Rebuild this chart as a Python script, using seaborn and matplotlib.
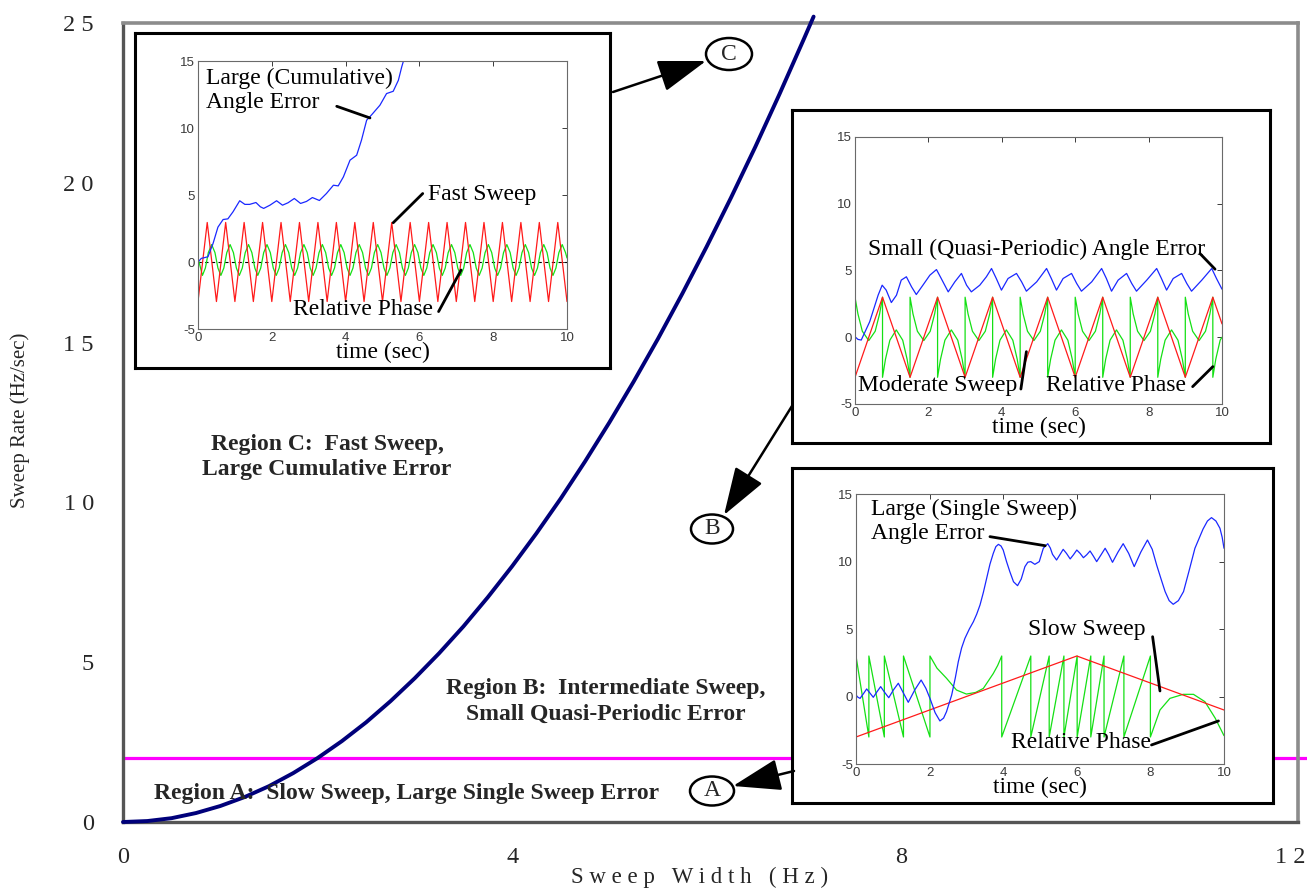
import matplotlib
matplotlib.use("Agg")
import matplotlib.pyplot as plt
import seaborn as sns
from matplotlib.patches import Ellipse, FancyArrowPatch

W, H = 1307, 888

# ---------------- main chart data ----------------
sweep_width = [0.0, 0.25, 0.5, 0.75, 1.0, 1.25, 1.5, 1.75, 2.0, 2.25, 2.5, 2.75, 3.0, 3.25, 3.5,
               3.75, 4.0, 4.25, 4.5, 4.75, 5.0, 5.25, 5.5, 5.75, 6.0, 6.25, 6.5, 6.75, 7.0, 7.1]
sweep_rate = [0.0, 0.03, 0.12, 0.28, 0.5, 0.78, 1.12, 1.53, 2.0, 2.53, 3.12, 3.78, 4.5, 5.28, 6.12,
              7.03, 8.0, 9.03, 10.12, 11.28, 12.5, 13.78, 15.12, 16.53, 18.0, 19.53, 21.12, 22.78,
              24.5, 25.2]
boundary_width = [0.0, 12.2]
boundary_rate = [2.0, 2.0]

x_ticks = [0, 4, 8, 12]
x_tick_labels = ["0", "4", "8", "1 2"]
y_ticks = [0, 5, 10, 15, 20, 25]
y_tick_labels = ["0", "5", "1 0", "1 5", "2 0", "2 5"]

# ---------------- fast sweep (region C) ----------------
fast_err_t = [0.0, 0.09, 0.27, 0.41, 0.54, 0.68, 0.81, 0.95, 1.13, 1.27, 1.40, 1.57, 1.69, 1.78,
              1.95, 2.13, 2.29, 2.44, 2.61, 2.78, 2.94, 3.10, 3.29, 3.48, 3.67, 3.80, 3.94, 4.12,
              4.30, 4.43, 4.57, 4.71, 4.93, 5.11, 5.29, 5.43, 5.52, 5.60]
fast_err = [0.0, 0.27, 0.39, 1.4, 2.6, 3.17, 3.22, 3.75, 4.57, 4.3, 4.3, 4.44, 4.12, 4.0,
            4.24, 4.57, 4.24, 4.42, 4.74, 4.37, 4.52, 4.81, 4.59, 5.11, 5.73, 5.68, 6.35, 7.6,
            7.97, 9.09, 10.58, 11.0, 11.7, 12.57, 12.74, 13.56, 14.55, 15.3]

fast_sweep_t = [0.0, 0.0, 0.25, 0.5, 0.75, 1.0, 1.25, 1.5, 1.75, 2.0, 2.25, 2.5, 2.75, 3.0, 3.25,
                3.5, 3.75, 4.0, 4.25, 4.5, 4.75, 5.0, 5.25, 5.5, 5.75, 6.0, 6.25, 6.5, 6.75, 7.0,
                7.25, 7.5, 7.75, 8.0, 8.25, 8.5, 8.75, 9.0, 9.25, 9.5, 9.75, 10.0]
fast_sweep = [-5.0, -2.95, 2.95, -2.95, 2.95, -2.95, 2.95, -2.95, 2.95, -2.95, 2.95, -2.95, 2.95,
              -2.95, 2.95, -2.95, 2.95, -2.95, 2.95, -2.95, 2.95, -2.95, 2.95, -2.95, 2.95, -2.95,
              2.95, -2.95, 2.95, -2.95, 2.95, -2.95, 2.95, -2.95, 2.95, -2.95, 2.95, -2.95, 2.95,
              -2.95, 2.95, -2.95]

fast_phase_t = [0.0,
                0.12, 0.20, 0.28, 0.37, 0.46, 0.54,
                0.62, 0.70, 0.78, 0.87, 0.96, 1.04,
                1.12, 1.20, 1.28, 1.37, 1.46, 1.54,
                1.62, 1.70, 1.78, 1.87, 1.96, 2.04,
                2.12, 2.20, 2.28, 2.37, 2.46, 2.54,
                2.62, 2.70, 2.78, 2.87, 2.96, 3.04,
                3.12, 3.20, 3.28, 3.37, 3.46, 3.54,
                3.62, 3.70, 3.78, 3.87, 3.96, 4.04,
                4.12, 4.20, 4.28, 4.37, 4.46, 4.54,
                4.62, 4.70, 4.78, 4.87, 4.96, 5.04,
                5.12, 5.20, 5.28, 5.37, 5.46, 5.54,
                5.62, 5.70, 5.78, 5.87, 5.96, 6.04,
                6.12, 6.20, 6.28, 6.37, 6.46, 6.54,
                6.62, 6.70, 6.78, 6.87, 6.96, 7.04,
                7.12, 7.20, 7.28, 7.37, 7.46, 7.54,
                7.62, 7.70, 7.78, 7.87, 7.96, 8.04,
                8.12, 8.20, 8.28, 8.37, 8.46, 8.54,
                8.62, 8.70, 8.78, 8.87, 8.96, 9.04,
                9.12, 9.20, 9.28, 9.37, 9.46, 9.54,
                9.62, 9.70, 9.78, 9.87, 9.96,
                10.0]
fast_phase = [0.3,
              -1.0, -0.45, 0.7, 1.3, 0.7, -0.45,
              -1.0, -0.45, 0.7, 1.3, 0.7, -0.45,
              -1.0, -0.45, 0.7, 1.3, 0.7, -0.45,
              -1.0, -0.45, 0.7, 1.3, 0.7, -0.45,
              -1.0, -0.45, 0.7, 1.3, 0.7, -0.45,
              -1.0, -0.45, 0.7, 1.3, 0.7, -0.45,
              -1.0, -0.45, 0.7, 1.3, 0.7, -0.45,
              -1.0, -0.45, 0.7, 1.3, 0.7, -0.45,
              -1.0, -0.45, 0.7, 1.3, 0.7, -0.45,
              -1.0, -0.45, 0.7, 1.3, 0.7, -0.45,
              -1.0, -0.45, 0.7, 1.3, 0.7, -0.45,
              -1.0, -0.45, 0.7, 1.3, 0.7, -0.45,
              -1.0, -0.45, 0.7, 1.3, 0.7, -0.45,
              -1.0, -0.45, 0.7, 1.3, 0.7, -0.45,
              -1.0, -0.45, 0.7, 1.3, 0.7, -0.45,
              -1.0, -0.45, 0.7, 1.3, 0.7, -0.45,
              -1.0, -0.45, 0.7, 1.3, 0.7, -0.45,
              -1.0, -0.45, 0.7, 1.3, 0.7, -0.45,
              -1.0, -0.45, 0.7, 1.3, 0.7, -0.45,
              -1.0, -0.45, 0.7, 1.3, 0.7,
              0.3]

# ---------------- moderate sweep (region B) ----------------
mod_err_t = [0.0, 0.08, 0.17, 0.4, 0.63, 0.74, 0.85, 0.99, 1.13, 1.26, 1.40, 1.54, 1.67, 1.85,
             2.04, 2.22, 2.35, 2.54, 2.72, 2.9, 3.04, 3.17, 3.4, 3.58, 3.72, 3.85, 3.99, 4.17,
             4.4, 4.54, 4.67, 4.95, 5.22, 5.35, 5.49, 5.67, 5.9, 6.04, 6.17, 6.45, 6.72, 6.85,
             6.99, 7.17, 7.4, 7.54, 7.67, 7.95, 8.22, 8.35, 8.49, 8.67, 8.9, 9.04, 9.17, 9.45,
             9.72, 9.85, 10.0]
mod_err = [0.04, -0.16, -0.21, 1.16, 3.15, 3.9, 3.53, 2.6, 3.15, 4.28, 4.53, 3.78, 3.2, 3.9,
           4.65, 5.07, 4.4, 3.4, 4.15, 4.78, 3.9, 3.4, 3.9, 4.53, 5.15, 4.4, 3.53, 4.4,
           4.78, 4.15, 3.45, 4.15, 5.15, 4.4, 3.53, 4.4, 4.78, 4.03, 3.45, 4.15, 5.15, 4.4,
           3.45, 4.28, 4.78, 4.03, 3.45, 4.28, 5.15, 4.4, 3.53, 4.4, 4.78, 4.03, 3.45, 4.28,
           5.15, 4.4, 3.6]

mod_sweep_t = [0.0, 0.0, 0.75, 1.5, 2.25, 3.0, 3.75, 4.5, 5.25, 6.0, 6.75, 7.5, 8.25, 9.0, 9.75, 10.0]
mod_sweep = [-5.0, -3.0, 3.0, -3.0, 3.0, -3.0, 3.0, -3.0, 3.0, -3.0, 3.0, -3.0, 3.0, -3.0, 3.0, 1.0]

mod_phase_t = [0.0,
               0.0, 0.08, 0.2, 0.375, 0.55, 0.67, 0.75, 0.75, 0.83, 0.95, 1.125, 1.3, 1.42, 1.5,
               1.5, 1.58, 1.7, 1.875, 2.05, 2.17, 2.25, 2.25, 2.33, 2.45, 2.625, 2.8, 2.92, 3.0,
               3.0, 3.08, 3.2, 3.375, 3.55, 3.67, 3.75, 3.75, 3.83, 3.95, 4.125, 4.3, 4.42, 4.5,
               4.5, 4.58, 4.7, 4.875, 5.05, 5.17, 5.25, 5.25, 5.33, 5.45, 5.625, 5.8, 5.92, 6.0,
               6.0, 6.08, 6.2, 6.375, 6.55, 6.67, 6.75, 6.75, 6.83, 6.95, 7.125, 7.3, 7.42, 7.5,
               7.5, 7.58, 7.7, 7.875, 8.05, 8.17, 8.25, 8.25, 8.33, 8.45, 8.625, 8.8, 8.92, 9.0,
               9.0, 9.08, 9.2, 9.375, 9.55, 9.67, 9.75, 9.75, 9.83, 9.95, 10.0]
mod_phase = [-3.0,
             3.0, 1.75, 0.45, -0.25, 0.45, 1.75, 3.0, -3.0, -1.65, -0.22, 0.55, -0.22, -1.65, -3.0,
             3.0, 1.75, 0.45, -0.25, 0.45, 1.75, 3.0, -3.0, -1.65, -0.22, 0.55, -0.22, -1.65, -3.0,
             3.0, 1.75, 0.45, -0.25, 0.45, 1.75, 3.0, -3.0, -1.65, -0.22, 0.55, -0.22, -1.65, -3.0,
             3.0, 1.75, 0.45, -0.25, 0.45, 1.75, 3.0, -3.0, -1.65, -0.22, 0.55, -0.22, -1.65, -3.0,
             3.0, 1.75, 0.45, -0.25, 0.45, 1.75, 3.0, -3.0, -1.65, -0.22, 0.55, -0.22, -1.65, -3.0,
             3.0, 1.75, 0.45, -0.25, 0.45, 1.75, 3.0, -3.0, -1.65, -0.22, 0.55, -0.22, -1.65, -3.0,
             3.0, 1.75, 0.45, -0.25, 0.45, 1.75, 3.0, -3.0, -1.65, -0.22, 0.0]

# ---------------- slow sweep (region A) ----------------
slow_err_t = [0.0, 0.05, 0.11, 0.2, 0.29, 0.38, 0.47, 0.57, 0.67, 0.78, 0.89, 1.02, 1.15, 1.28,
              1.42, 1.6, 1.77, 1.9, 2.01, 2.15, 2.28, 2.38, 2.46, 2.6, 2.7, 2.78, 2.87, 2.96,
              3.08, 3.19, 3.28, 3.37, 3.46, 3.55, 3.64, 3.73, 3.8, 3.87, 3.94, 4.0, 4.09, 4.18,
              4.28, 4.39, 4.49, 4.59, 4.67, 4.75, 4.86, 4.98, 5.09, 5.21, 5.28, 5.34, 5.45, 5.54,
              5.63, 5.72, 5.82, 5.91, 6.0, 6.09, 6.18, 6.27, 6.36, 6.45, 6.54, 6.66, 6.77, 6.87,
              6.97, 7.12, 7.26, 7.41, 7.56, 7.74, 7.92, 8.05, 8.17, 8.29, 8.4, 8.51, 8.62, 8.76,
              8.9, 9.05, 9.21, 9.43, 9.55, 9.66, 9.78, 9.89, 9.95, 10.0]
slow_err = [0.11, -0.05, -0.14, 0.2, 0.56, 0.25, -0.06, 0.35, 0.73, 0.3, -0.09, 0.5, 0.98, 0.3,
            -0.43, 0.5, 1.22, 0.6, -0.14, -1.2, -1.81, -1.6, -1.12, 0.11, 1.4, 2.58, 3.6, 4.31,
            5.0, 5.54, 6.1, 6.78, 7.7, 8.75, 9.8, 10.6, 11.1, 11.27, 11.15, 10.85, 10.0, 9.25,
            8.5, 8.21, 8.7, 9.62, 9.95, 9.99, 9.79, 9.99, 10.98, 11.32, 11.0, 10.53, 10.11, 10.5,
            10.9, 10.6, 10.19, 10.5, 10.85, 10.6, 10.28, 10.5, 10.78, 10.4, 9.99, 10.5, 10.98, 10.5,
            9.94, 10.7, 11.32, 10.6, 9.62, 10.7, 11.59, 10.9, 9.74, 8.7, 7.77, 7.1, 6.83, 7.1,
            7.77, 9.3, 10.98, 12.4, 13.0, 13.25, 13.0, 12.46, 11.8, 10.98]

slow_sweep_t = [0.0, 0.0, 6.0, 10.0]
slow_sweep = [-5.0, -3.0, 3.0, -1.0]

slow_phase_t = [0.0, 0.35, 0.35, 0.77, 0.77, 1.29, 1.29, 2.01, 2.01,
                2.2, 2.46, 2.73, 3.0, 3.25, 3.46, 3.73, 3.85, 3.96,
                3.96, 4.75, 4.75, 5.25, 5.25, 5.65, 5.65, 6.01, 6.01, 6.38, 6.38, 6.74, 6.74,
                7.28, 7.28, 8.0, 8.0,
                8.26, 8.53, 8.89, 9.17, 9.48, 9.76, 10.0]
slow_phase = [3.0, -3.0, 3.0, -3.0, 3.0, -3.0, 3.0, -3.0, 3.0,
              2.1, 1.35, 0.48, 0.18, 0.3, 0.6, 1.7, 2.3, 3.0,
              -3.0, 3.0, -3.0, 3.0, -3.0, 3.0, -3.0, 3.0, -3.0, 3.0, -3.0, 3.0, -3.0,
              3.0, -3.0, 3.0, -3.0,
              -1.0, -0.14, 0.16, 0.16, -0.38, -1.6, -2.9]

# ---------------- styling ----------------
sns.set_style("white")
plt.rcParams["font.family"] = ["Liberation Serif", "DejaVu Serif"]
plt.rcParams["axes.unicode_minus"] = False

ERR_C, SWEEP_C, PHASE_C = "#1a28ff", "#ff1a1a", "#14e014"
SERIF = "Liberation Serif"
SANS = "Liberation Sans"

fig = plt.figure(figsize=(W / 100, H / 100), dpi=100)
fig.patch.set_facecolor("white")


def fx(px):
    return px / W


def fy(py):
    return 1 - py / H


def rect(x0, y0, x1, y1):
    return [fx(x0), fy(y1), fx(x1) - fx(x0), fy(y0) - fy(y1)]


# ---------------- main axes ----------------
ax = fig.add_axes(rect(123, 23, 1298, 822))
ax.set_facecolor("white")
sns.lineplot(x=boundary_width, y=boundary_rate, ax=ax, color="#ff00ff", lw=2.3,
             estimator=None, sort=False, clip_on=False, zorder=2)
sns.lineplot(x=sweep_width, y=sweep_rate, ax=ax, color="#00007a", lw=2.8,
             estimator=None, sort=False, clip_on=False, zorder=3)
ax.set_xlim(0, 12.08)
ax.set_ylim(0, 25)
ax.set_xticks(x_ticks)
ax.set_xticklabels(x_tick_labels)
ax.set_yticks(y_ticks)
ax.set_yticklabels(y_tick_labels)
ax.tick_params(axis="x", direction="inout", length=14, width=1.0, color="black",
               pad=11, labelsize=17.5)
ax.tick_params(axis="y", direction="out", length=7, width=1.0, color="black",
               pad=14, labelsize=17.5)
ax.set_xlabel("")
ax.set_ylabel("")
for side in ("left", "bottom"):
    ax.spines[side].set_color("#555555")
    ax.spines[side].set_linewidth(2.4)
for side in ("top", "right"):
    ax.spines[side].set_color("#8c8c8c")
    ax.spines[side].set_linewidth(2.6)

fig.text(fx(20), fy(420), "Sweep Rate (Hz/sec)", rotation=90, ha="center", va="center",
         fontsize=15, family=SERIF)
fig.text(fx(700), fy(877), "S w e e p   W i d t h   ( H z )", ha="center", va="center",
         fontsize=16.5, family=SERIF)

# region descriptions
fig.text(fx(327), fy(457), "Region C:  Fast Sweep,\nLarge Cumulative Error", ha="center",
         va="center", fontsize=17, fontweight="bold", family=SERIF, linespacing=1.3)
fig.text(fx(606), fy(701), "Region B:  Intermediate Sweep,\nSmall Quasi-Periodic Error",
         ha="center", va="center", fontsize=17, fontweight="bold", family=SERIF, linespacing=1.3)
fig.text(fx(407), fy(793), "Region A:  Slow Sweep, Large Single Sweep Error", ha="center",
         va="center", fontsize=17, fontweight="bold", family=SERIF)


# ---------------- inset panels ----------------
def frame_box(x0, y0, x1, y1):
    b = fig.add_axes(rect(x0, y0, x1, y1))
    b.set_facecolor("white")
    b.set_xticks([])
    b.set_yticks([])
    for s in b.spines.values():
        s.set_color("black")
        s.set_linewidth(2.2)
    return b


def inner_axes(x0, y0, x1, y1):
    a = fig.add_axes(rect(x0, y0, x1, y1))
    a.set_facecolor("white")
    a.set_xlim(0, 10)
    a.set_ylim(-5, 15)
    a.set_xticks([0, 2, 4, 6, 8, 10])
    a.set_yticks([-5, 0, 5, 10, 15])
    a.tick_params(direction="in", length=3.5, width=0.7, top=True, right=True,
                  labelsize=9.5, colors="#3a3a3a", pad=2)
    for lbl in a.get_xticklabels() + a.get_yticklabels():
        lbl.set_family(SANS)
    for s in a.spines.values():
        s.set_color("#6a6a6a")
        s.set_linewidth(0.8)
    return a


def traces(a, et, e, st, s, pt, p):
    sns.lineplot(x=pt, y=p, ax=a, color=PHASE_C, lw=0.9, estimator=None, sort=False)
    sns.lineplot(x=st, y=s, ax=a, color=SWEEP_C, lw=0.9, estimator=None, sort=False)
    sns.lineplot(x=et, y=e, ax=a, color=ERR_C, lw=0.9, estimator=None, sort=False)
    a.set_xlim(0, 10)
    a.set_ylim(-5, 15)
    a.set_xlabel("time (sec)", fontsize=17, family=SERIF, labelpad=-1.5, color="black")
    a.set_ylabel("")


def leader(a, p0, p1):
    a.annotate("", xy=p1, xytext=p0, xycoords="data", textcoords="data",
               arrowprops=dict(arrowstyle="-", lw=2.0, color="black",
                               shrinkA=0, shrinkB=0), annotation_clip=False)


def label(a, x, y, s):
    a.text(x, y, s, ha="left", va="center", fontsize=17, family=SERIF,
           linespacing=1.2, color="black")


# Region C panel
frame_box(135, 33, 610, 368)
ac = inner_axes(198, 61, 567, 329)
ac.axhline(0, color="black", lw=0.8, ls=(0, (3, 3)), zorder=1)
traces(ac, fast_err_t, fast_err, fast_sweep_t, fast_sweep, fast_phase_t, fast_phase)
label(ac, 0.22, 12.8, "Large (Cumulative)\nAngle Error")
leader(ac, (3.76, 11.62), (4.66, 10.75))
label(ac, 6.23, 5.07, "Fast Sweep")
leader(ac, (6.09, 5.11), (5.29, 2.93))
label(ac, 2.57, -3.58, "Relative Phase")
leader(ac, (6.52, -3.7), (7.13, -0.6))

# Region B panel
frame_box(792, 110, 1270, 443)
ab = inner_axes(855, 137, 1222, 404)
traces(ab, mod_err_t, mod_err, mod_sweep_t, mod_sweep, mod_phase_t, mod_phase)
label(ab, 0.35, 6.6, "Small (Quasi-Periodic) Angle Error")
leader(ab, (9.4, 6.27), (9.81, 5.1))
label(ab, 0.08, -3.58, "Moderate Sweep")
leader(ab, (4.52, -3.88), (4.67, -1.08))
label(ab, 5.2, -3.65, "Relative Phase")
leader(ab, (9.2, -3.7), (9.75, -2.2))

# Region A panel
frame_box(792, 468, 1273, 803)
aa = inner_axes(856, 494, 1224, 764)
traces(aa, slow_err_t, slow_err, slow_sweep_t, slow_sweep, slow_phase_t, slow_phase)
label(aa, 0.41, 12.95, "Large (Single Sweep)\nAngle Error")
leader(aa, (3.64, 11.84), (5.14, 11.17))
label(aa, 4.68, 4.98, "Slow Sweep")
leader(aa, (8.06, 4.43), (8.26, 0.41))
label(aa, 4.2, -3.42, "Relative Phase")
leader(aa, (8.03, -3.59), (9.85, -1.81))

# ---------------- region callouts ----------------
callouts = [
    ("C", (729, 54), 46, 32, (613, 92), (706, 61)),
    ("B", (712, 529), 42, 29, (792, 406), (724, 515)),
    ("A", (712, 791), 44, 29, (794, 771), (733, 786)),
]
for letter, (cx, cy), w, h, start, tip in callouts:
    fig.add_artist(Ellipse((fx(cx), fy(cy)), w / W, h / H, transform=fig.transFigure,
                           facecolor="white", edgecolor="black", lw=1.8, zorder=4))
    fig.text(fx(cx), fy(cy), letter, ha="center", va="center", fontsize=17,
             family=SERIF, zorder=5)
    fig.add_artist(FancyArrowPatch(posA=(fx(start[0]), fy(start[1])),
                                   posB=(fx(tip[0]), fy(tip[1])),
                                   transform=fig.transFigure,
                                   arrowstyle="-|>,head_length=1.5,head_width=0.5",
                                   mutation_scale=20, lw=1.8, color="black",
                                   shrinkA=0, shrinkB=0, zorder=4))

fig.savefig("out.png", dpi=100, facecolor="white")
